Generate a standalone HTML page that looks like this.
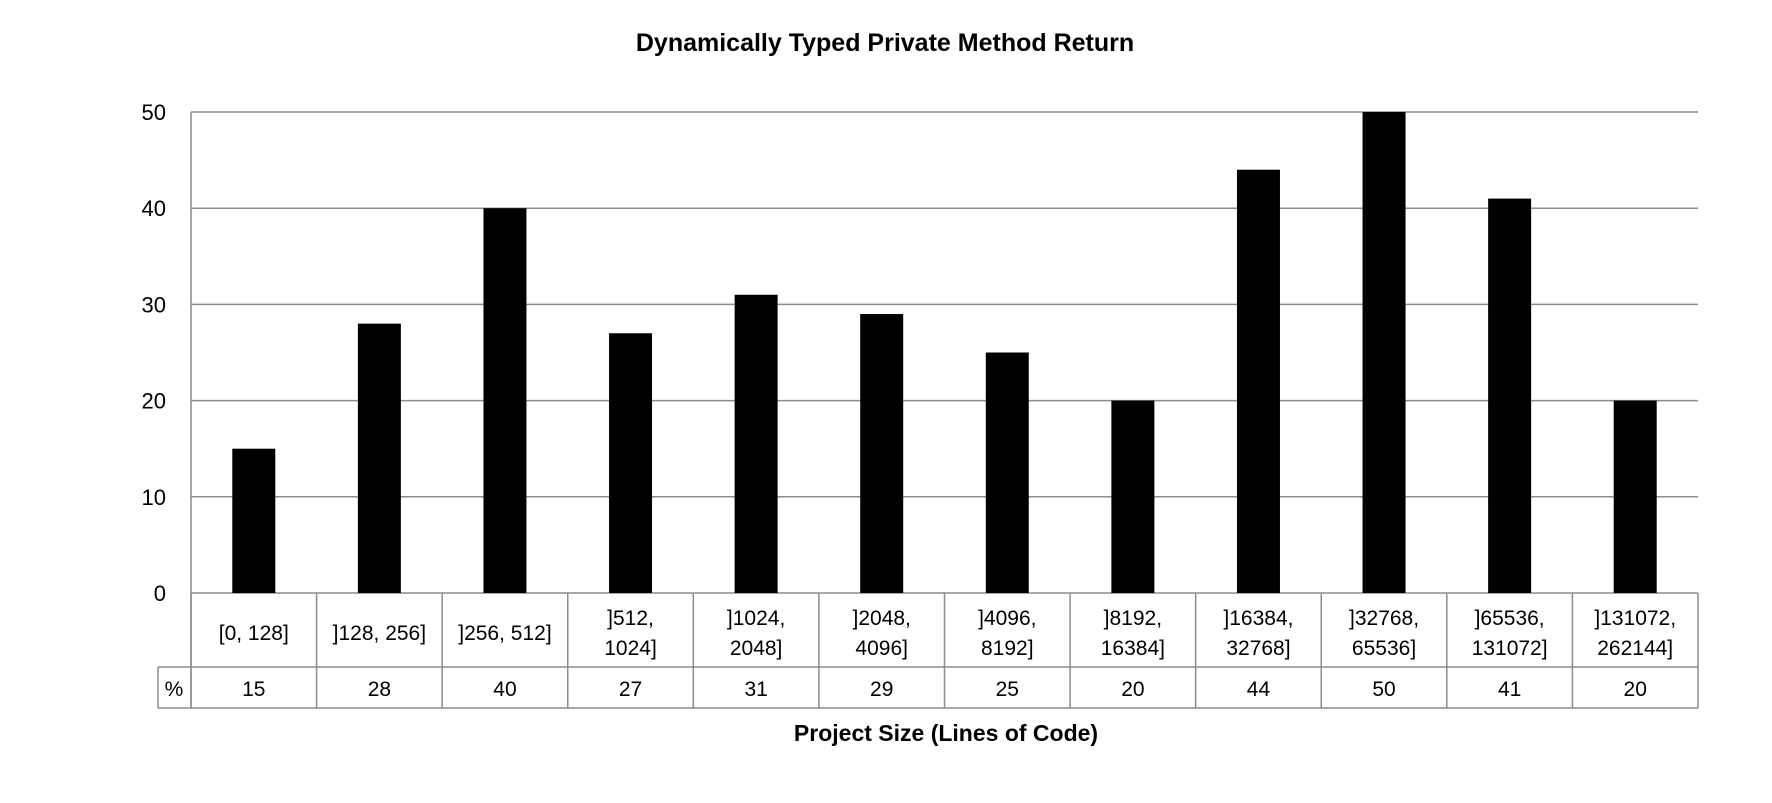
<!DOCTYPE html>
<html><head><meta charset="utf-8"><style>
html,body{margin:0;padding:0;background:#fff;}
svg{display:block;font-family:"Liberation Sans",sans-serif;}
</style></head><body>
<svg id="chart" width="1772" height="803">
<text x="885" y="51" text-anchor="middle" font-size="25" font-weight="bold">Dynamically Typed Private Method Return</text>
<text x="946" y="741" text-anchor="middle" font-size="23" font-weight="bold">Project Size (Lines of Code)</text>
<g id="grid"></g><g id="bars"></g><g id="table"></g>
</svg>
<script>
const categories=[["[0, 128]"],["]128, 256]"],["]256, 512]"],["]512,","1024]"],["]1024,","2048]"],["]2048,","4096]"],["]4096,","8192]"],["]8192,","16384]"],["]16384,","32768]"],["]32768,","65536]"],["]65536,","131072]"],["]131072,","262144]"]];
const values=[15,28,40,27,31,29,25,20,44,50,41,20];
const yTicks=[0,10,20,30,40,50];
const NS="http://www.w3.org/2000/svg";
const L=191,R=1698,T=112,B=593,yMax=50;
const bw=(R-L)/categories.length;
const y=v=>B-(v/yMax)*(B-T);
const x=i=>L+i*bw;
function mk(tag,at,parent){const e=document.createElementNS(NS,tag);for(const k in at)e.setAttribute(k,at[k]);parent.appendChild(e);return e;}
const g=document.getElementById('grid'),bars=document.getElementById('bars'),tb=document.getElementById('table');
yTicks.forEach(t=>{
 const l=mk('line',{x1:L,x2:R,y1:y(t),y2:y(t),stroke:'#8c8c8c','stroke-width':1.5},g);
 
 
 const tx=mk('text',{x:166,y:y(t)+8,'text-anchor':'end','font-size':22},g);
 tx.textContent=t;
 
 
});
mk('line',{x1:L,x2:L,y1:T,y2:708,stroke:'#8c8c8c','stroke-width':1.5},g);
values.forEach((v,i)=>{
 const r=mk('rect',{x:x(i)+bw/2-21.5,y:y(v),width:43,height:B-y(v),fill:'#000'},bars);
 
 
});
const r1=667,r2=708;
mk('line',{x1:L,x2:R,y1:r1,y2:r1,stroke:'#8c8c8c','stroke-width':1.5},tb);
mk('line',{x1:158,x2:R,y1:r2,y2:r2,stroke:'#8c8c8c','stroke-width':1.5},tb);
mk('line',{x1:158,x2:L,y1:r1,y2:r1,stroke:'#8c8c8c','stroke-width':1.5},tb);
mk('line',{x1:158,x2:158,y1:r1,y2:r2,stroke:'#8c8c8c','stroke-width':1.5},tb);
const pc=mk('text',{x:174,y:r1+29,'text-anchor':'middle','font-size':21},tb);
pc.textContent='%';


for(let i=0;i<=categories.length;i++){mk('line',{x1:x(i),x2:x(i),y1:B,y2:r2,stroke:'#8c8c8c','stroke-width':1.5},tb);}
categories.forEach((c,i)=>{
 const cx=x(i)+bw/2;
 const t=mk('text',{'text-anchor':'middle','font-size':21},tb);
 
 
 if(c.length===1){const s=mk('tspan',{x:cx,y:640},t);s.textContent=c[0];}
 else{c.forEach((p,j)=>{const s=mk('tspan',{x:cx,y:625+j*30},t);s.textContent=p;});}
 const vt=mk('text',{x:cx,y:r1+29,'text-anchor':'middle','font-size':21},tb);
 vt.textContent=values[i];
 
 
});
</script>
</body></html>
